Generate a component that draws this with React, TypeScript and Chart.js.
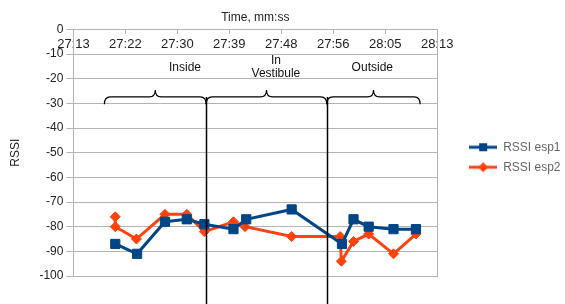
import React, { useEffect, useRef } from "react";
import { Chart, registerables } from "chart.js";

Chart.register(...registerables);

// ---- data (times in seconds since 00:00, values in dBm) ----
const xMin = 1633.3; // 27:13
const xMax = 1693.3; // 28:13
const xTickLabels = ["27:13", "27:22", "27:30", "27:39", "27:48", "27:56", "28:05", "28:13"];

const esp1Times = [1640.2, 1643.8, 1648.4, 1652.0, 1654.9, 1659.7, 1661.8, 1669.3, 1677.6, 1679.5, 1682.0, 1686.1, 1689.8];
const esp1Values = [-87, -91, -78, -77, -79, -81, -77, -73, -87, -77, -80, -81, -81];

const esp2Times = [1640.2, 1640.2, 1643.7, 1648.4, 1652.0, 1654.9, 1659.7, 1661.6, 1669.3, 1677.3, 1677.5, 1679.5, 1682.0, 1686.1, 1689.8];
const esp2Values = [-76, -80, -85, -75, -75, -82, -78, -80, -84, -84, -94, -86, -83, -91, -83];

const seriesNames = ["RSSI esp1", "RSSI esp2"];
const seriesColors = ["#004586", "#ff420e"];

// zones (brace ends in seconds) and labels
const zoneBounds = [1638.4, 1655.2, 1675.1, 1690.5];
const zoneLabels = [["Inside"], ["In", "Vestibule"], ["Outside"]];
const zoneLabelX = [1651.7, 1666.7, 1682.6];

const FONT = "'Liberation Sans', Arial, sans-serif";
const GRID = "#b3b3b3";

function makeLegendIcon(color: string, shape: "square" | "diamond") {
  const c = document.createElement("canvas");
  c.width = 28;
  c.height = 12;
  const g = c.getContext("2d")!;
  g.strokeStyle = color;
  g.fillStyle = color;
  g.lineWidth = 3;
  g.beginPath();
  g.moveTo(0, 6);
  g.lineTo(28, 6);
  g.stroke();
  g.beginPath();
  if (shape === "square") {
    g.rect(10, 2, 8, 8);
  } else {
    g.moveTo(14, 1);
    g.lineTo(19, 6);
    g.lineTo(14, 11);
    g.lineTo(9, 6);
    g.closePath();
  }
  g.fill();
  return c;
}

const legendWidthPlugin = {
  id: "legendWidth",
  beforeLayout(chart: any) {
    const lg = chart.legend;
    if (lg && !lg._widened) {
      const orig = lg.fit.bind(lg);
      lg.fit = function () {
        orig();
        this.width += 8;
      };
      lg._widened = true;
    }
  },
};

const annotationPlugin = {
  id: "zones",
  afterDatasetsDraw(chart: any) {
    const { ctx } = chart;
    const xs = chart.scales.x;
    const ys = chart.scales.y;
    const yb = ys.getPixelForValue(-27.4);
    const yTip = ys.getPixelForValue(-24.6);
    const yEnd = ys.getPixelForValue(-30.4);
    const yBottom = ys.getPixelForValue(-112);
    ctx.save();
    ctx.strokeStyle = "#000";
    ctx.lineWidth = 1.2;
    const r = 6;
    for (let i = 0; i < zoneBounds.length - 1; i++) {
      const x0 = xs.getPixelForValue(zoneBounds[i]);
      const x1 = xs.getPixelForValue(zoneBounds[i + 1]);
      const tip = (x0 + x1) / 2;
      ctx.beginPath();
      ctx.moveTo(x0, yEnd);
      ctx.quadraticCurveTo(x0, yb, x0 + r, yb);
      ctx.lineTo(tip - r, yb);
      ctx.quadraticCurveTo(tip, yb, tip, yTip);
      ctx.quadraticCurveTo(tip, yb, tip + r, yb);
      ctx.lineTo(x1 - r, yb);
      ctx.quadraticCurveTo(x1, yb, x1, yEnd);
      ctx.stroke();
    }
    ctx.lineWidth = 1.5;
    for (let i = 1; i < zoneBounds.length - 1; i++) {
      const x = Math.round(xs.getPixelForValue(zoneBounds[i])) + 0.5;
      ctx.beginPath();
      ctx.moveTo(x, yb);
      ctx.lineTo(x, yBottom);
      ctx.stroke();
    }
    ctx.fillStyle = "#111";
    ctx.font = "12px " + FONT;
    ctx.textAlign = "center";
    ctx.textBaseline = "middle";
    zoneLabels.forEach((lines, i) => {
      const x = xs.getPixelForValue(zoneLabelX[i]);
      const yc = ys.getPixelForValue(-15.4);
      const lh = 13.5;
      lines.forEach((t, j) => {
        const y = yc + (j - (lines.length - 1) / 2) * lh;
        ctx.fillText(t, x, y);
      });
    });
    ctx.restore();
  },
};

export default function App() {
  const ref = useRef<HTMLCanvasElement | null>(null);

  useEffect(() => {
    document.body.style.margin = "0";
    const canvas = ref.current!;
    const icons = [makeLegendIcon(seriesColors[0], "square"), makeLegendIcon(seriesColors[1], "diamond")];

    const chart = new Chart(canvas, {
      type: "scatter",
      data: {
        datasets: [
          {
            label: seriesNames[0],
            data: esp1Times.map((t, i) => ({ x: t, y: esp1Values[i] })),
            showLine: true,
            borderColor: seriesColors[0],
            backgroundColor: seriesColors[0],
            borderWidth: 3,
            pointStyle: "rect",
            pointRadius: 6.5,
            pointBorderWidth: 1,
            order: 1,
          },
          {
            label: seriesNames[1],
            data: esp2Times.map((t, i) => ({ x: t, y: esp2Values[i] })),
            showLine: true,
            borderColor: seriesColors[1],
            backgroundColor: seriesColors[1],
            borderWidth: 3,
            pointStyle: "rectRot",
            pointRadius: 5,
            pointBorderWidth: 1,
            order: 2,
          },
        ],
      },
      options: {
        responsive: false,
        animation: false,
        layout: { padding: { left: 0, right: 2, top: 0, bottom: 28 } },
        font: { family: FONT },
        plugins: {
          tooltip: { enabled: false },
          title: {
            display: true,
            text: "Time, mm:ss",
            fullSize: false,
            color: "#222",
            font: { family: FONT, size: 12, weight: "normal" },
            padding: { top: 10, bottom: 5 },
          },
          legend: {
            position: "right",
            align: "center",
            title: {
              display: true,
              text: " ",
              padding: { top: 0, bottom: 24 },
              font: { family: FONT, size: 12 },
            },
            labels: {
              usePointStyle: true,
              pointStyleWidth: 28,
              color: "#222",
              font: { family: FONT, size: 12 },
              padding: 8,
              generateLabels: () =>
                seriesNames.map((name, i) => ({
                  text: name,
                  fillStyle: seriesColors[i],
                  strokeStyle: seriesColors[i],
                  lineWidth: 0,
                  hidden: false,
                  datasetIndex: i,
                  pointStyle: icons[i] as any,
                })),
            },
          },
        },
        scales: {
          x: {
            type: "linear",
            position: { y: 0 } as any,
            min: xMin,
            max: xMax,
            afterBuildTicks: (scale: any) => {
              const n = xTickLabels.length;
              scale.ticks = xTickLabels.map((_, i) => ({ value: xMin + (i * (xMax - xMin)) / (n - 1) }));
            },
            ticks: {
              autoSkip: false,
              maxRotation: 0,
              padding: 3,
              color: "#222",
              font: { family: FONT, size: 13 },
              callback: (_v: any, i: number) => xTickLabels[i],
            },
            grid: { drawOnChartArea: false, drawTicks: true, tickLength: 4, color: GRID },
            border: { display: true, color: GRID },
          },
          y: {
            type: "linear",
            position: "left",
            min: -100,
            max: 0,
            ticks: {
              stepSize: 10,
              padding: 3,
              color: "#222",
              font: { family: FONT, size: 12 },
            },
            grid: { color: GRID, tickLength: 7 },
            border: { display: true, color: GRID },
            title: {
              display: true,
              text: "RSSI",
              color: "#222",
              font: { family: FONT, size: 12 },
              padding: { top: 8, bottom: 14 },
            },
          },
          yR: {
            type: "linear",
            position: "right",
            min: -100,
            max: 0,
            ticks: { display: false },
            grid: { display: false, drawTicks: false },
            border: { display: true, color: GRID },
            afterFit: (scale: any) => {
              scale.width = 24;
            },
          },
        },
      },
      plugins: [legendWidthPlugin, annotationPlugin],
    });

    return () => chart.destroy();
  }, []);

  return (
    <div style={{ width: 565, height: 304 }}>
      <canvas ref={ref} width={565} height={304} style={{ display: "block" }} />
    </div>
  );
}
